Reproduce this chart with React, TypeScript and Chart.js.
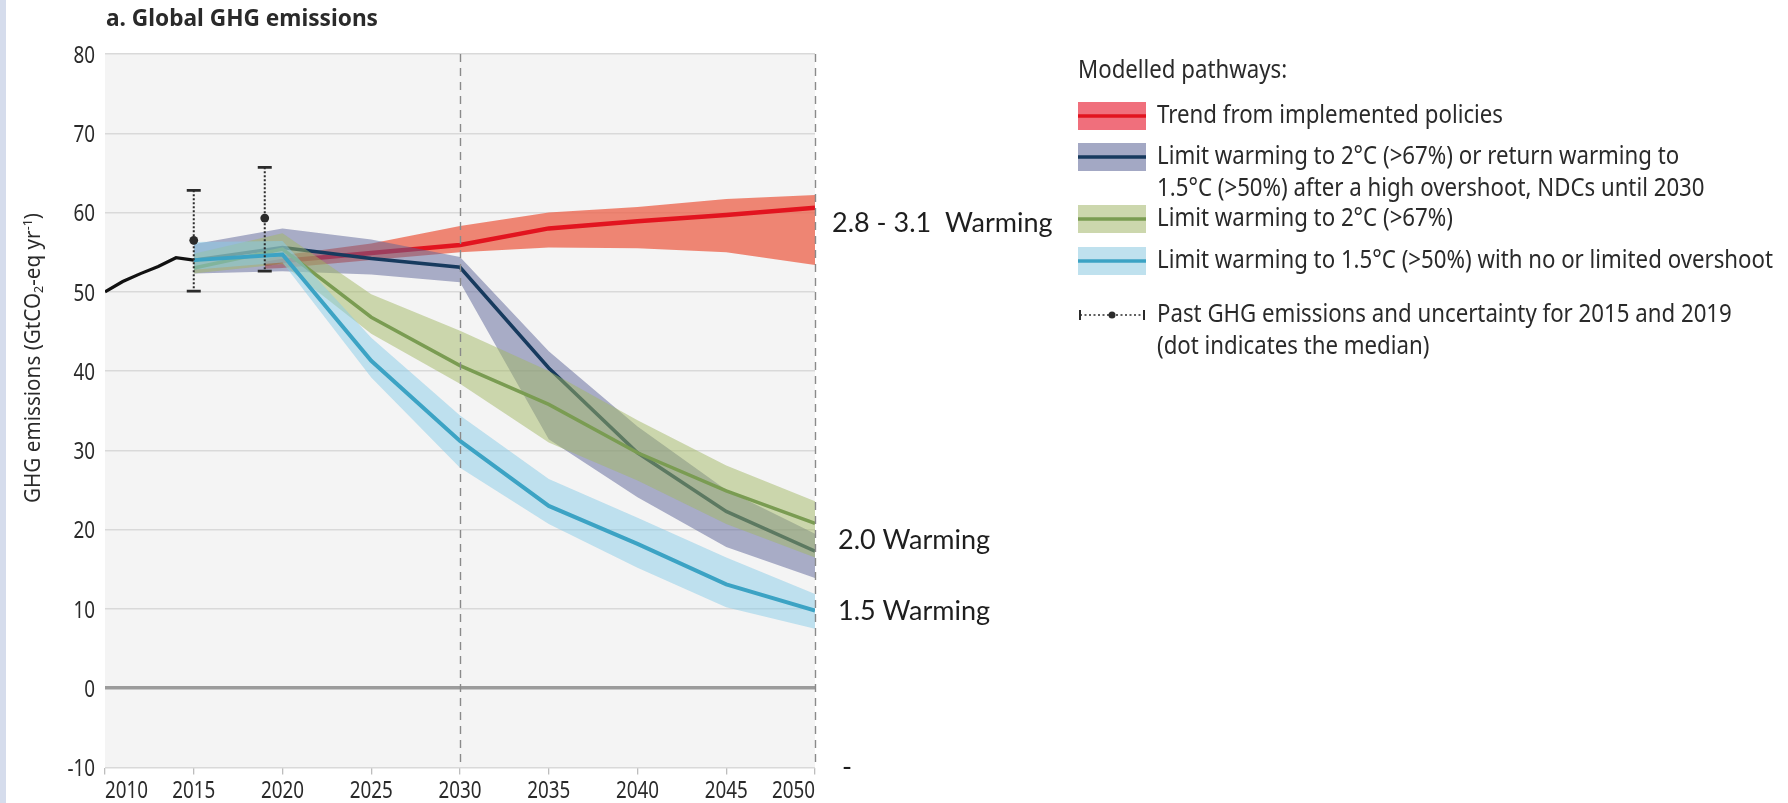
import React, { useEffect, useRef } from 'react';
import { Chart, registerables } from 'chart.js';
Chart.register(...registerables);

// ---------- data ----------
const histYears = [2010, 2011, 2012, 2013, 2014, 2015];
const histValues = [50.0, 51.3, 52.3, 53.2, 54.3, 54.0];

const pathYears = [2015, 2020, 2025, 2030, 2035, 2040, 2045, 2050];

const policyYears = [2019, 2020, 2025, 2030, 2035, 2040, 2045, 2050];
const policyMedian = [53.5, 53.9, 54.9, 55.9, 58.0, 58.9, 59.7, 60.6];
const policyLow = [52.9, 53.0, 54.0, 55.0, 55.6, 55.5, 55.0, 53.4];
const policyHigh = [54.1, 54.6, 56.1, 58.3, 60.0, 60.7, 61.7, 62.2];

const ndcMedian = [54.0, 55.6, 54.2, 53.1, 40.4, 29.7, 22.3, 17.3];
const ndcLow = [52.3, 52.6, 52.2, 51.2, 31.4, 24.1, 17.8, 13.9];
const ndcHigh = [56.0, 58.0, 56.6, 54.4, 42.5, 33.0, 25.0, 19.5];

const c2Median = [53.0, 55.4, 46.8, 40.7, 35.8, 29.7, 24.9, 20.8];
const c2Low = [52.3, 53.5, 44.7, 38.4, 31.0, 26.2, 20.7, 16.5];
const c2High = [54.8, 57.4, 49.7, 45.1, 40.0, 33.8, 28.1, 23.6];

const c15Median = [54.0, 54.7, 41.3, 31.2, 23.0, 18.2, 13.1, 9.8];
const c15Low = [52.8, 53.7, 39.2, 27.8, 20.7, 15.2, 10.2, 7.5];
const c15High = [56.3, 56.4, 44.2, 34.4, 26.4, 21.5, 16.5, 11.9];

const pastYears = [2015, 2019];
const pastMedian = [56.5, 59.3];
const pastLow = [50.1, 52.6];
const pastHigh = [62.8, 65.7];

const xTicksMin = 2010;
const xTicksMax = 2050;
const yTicksMin = -10;
const yTicksMax = 80;
const dashedYears = [2030, 2050];

const warmingLabels = ['2.8 - 3.1  Warming', '2.0 Warming', '1.5 Warming', '-'];
const warmingLabelValues = [58.6, 18.7, 9.7, -10];

const chartTitle = 'a. Global GHG emissions';
const legendTitle = 'Modelled pathways:';
const legendLines = [
  ['Trend from implemented policies'],
  ['Limit warming to 2°C (>67%) or return warming to', '1.5°C (>50%) after a high overshoot, NDCs until 2030'],
  ['Limit warming to 2°C (>67%)'],
  ['Limit warming to 1.5°C (>50%) with no or limited overshoot'],
];
const pastLegend = ['Past GHG emissions and uncertainty for 2015 and 2019', '(dot indicates the median)'];

// ---------- styles ----------
const CF = "'Noto Sans', 'Open Sans', 'Liberation Sans', sans-serif";
const LF = "Lato, 'Open Sans', sans-serif";
const TXT = '#2a2a2a';

const COL = {
  policyLine: '#e2141f',
  policyBand: 'rgba(236,96,72,0.75)',
  policySwatch: '#f06f7c',
  ndcLine: '#173a5e',
  ndcBand: 'rgba(92,100,152,0.5)',
  ndcSwatch: '#a3a8c4',
  c2Line: '#7a9c52',
  c2Band: 'rgba(162,184,100,0.5)',
  c2Swatch: '#ccd7ad',
  c15Line: '#3ca3c4',
  c15Band: 'rgba(136,204,232,0.5)',
  c15Swatch: '#bfe1ee',
};

const pts = (xs: number[], ys: number[]) => xs.map((x, i) => ({ x, y: ys[i] }));

const line = (data: any, color: string, width: number) => ({
  data, borderColor: color, borderWidth: width, pointRadius: 0, fill: false, tension: 0,
});
const bandHigh = (data: any, color: string) => ({
  data, borderWidth: 0, borderColor: 'rgba(0,0,0,0)', backgroundColor: color, pointRadius: 0, fill: '+1', tension: 0,
});
const bandLow = (data: any) => ({
  data, borderWidth: 0, borderColor: 'rgba(0,0,0,0)', pointRadius: 0, fill: false, tension: 0,
});

function drawText(ctx: CanvasRenderingContext2D, s: string, x: number, y: number, font: string, align: CanvasTextAlign = 'left', color = TXT, sx = 1) {
  ctx.save();
  ctx.font = font;
  ctx.fillStyle = color;
  ctx.textAlign = align;
  ctx.textBaseline = 'middle';
  ctx.translate(x, y);
  ctx.scale(sx, 1);
  ctx.fillText(s, 0, 0);
  ctx.restore();
}
function fitScale(ctx: CanvasRenderingContext2D, s: string, font: string, target: number) {
  ctx.save();
  ctx.font = font;
  const w = ctx.measureText(s).width;
  ctx.restore();
  return w > 0 ? target / w : 1;
}

const decorPlugin = {
  id: 'decor',
  beforeDraw(chart: any) {
    const { ctx, chartArea } = chart;
    ctx.save();
    ctx.fillStyle = '#f4f4f4';
    ctx.fillRect(chartArea.left, chartArea.top, chartArea.right - chartArea.left, chartArea.bottom - chartArea.top);
    ctx.fillStyle = '#d5dcec';
    ctx.fillRect(0, 0, 6, chart.height);
    ctx.restore();
  },
  afterDatasetsDraw(chart: any) {
    const { ctx, chartArea, scales } = chart;
    const xs = scales.x, ys = scales.y;
    ctx.save();
    ctx.strokeStyle = '#8a8a8a';
    ctx.lineWidth = 1.4;
    ctx.setLineDash([8, 6]);
    dashedYears.forEach((yr) => {
      const px = Math.round(xs.getPixelForValue(yr)) + 0.5;
      ctx.beginPath();
      ctx.moveTo(px, chartArea.top);
      ctx.lineTo(px, chartArea.bottom);
      ctx.stroke();
    });
    pastYears.forEach((yr, i) => {
      const px = xs.getPixelForValue(yr);
      const yl = ys.getPixelForValue(pastLow[i]);
      const yh = ys.getPixelForValue(pastHigh[i]);
      const ym = ys.getPixelForValue(pastMedian[i]);
      ctx.strokeStyle = '#2b2b2b';
      ctx.lineWidth = 2;
      ctx.setLineDash([2, 2]);
      ctx.beginPath();
      ctx.moveTo(px, yh);
      ctx.lineTo(px, yl);
      ctx.stroke();
      ctx.setLineDash([]);
      ctx.lineWidth = 2.8;
      ctx.beginPath();
      ctx.moveTo(px - 7, yh); ctx.lineTo(px + 7, yh);
      ctx.moveTo(px - 7, yl); ctx.lineTo(px + 7, yl);
      ctx.stroke();
      ctx.fillStyle = '#2b2b2b';
      ctx.beginPath();
      ctx.arc(px, ym, 4.4, 0, Math.PI * 2);
      ctx.fill();
    });
    ctx.restore();
  },
  afterDraw(chart: any) {
    const { ctx, chartArea, scales } = chart;
    const xs = scales.x, ys = scales.y;

    // tick labels (condensed)
    const tickFont = `23.5px ${CF}`;
    const sxTick = fitScale(ctx, '2010', tickFont, 43);
    xs.ticks.forEach((t: any, i: number) => {
      const px = xs.getPixelForValue(t.value);
      const align: CanvasTextAlign = i === 0 ? 'left' : i === xs.ticks.length - 1 ? 'right' : 'center';
      drawText(ctx, String(t.value), px, 791, tickFont, align, TXT, sxTick);
    });
    ys.ticks.forEach((t: any) => {
      drawText(ctx, String(t.value), chartArea.left - 10, ys.getPixelForValue(t.value) + 2, tickFont, 'right', TXT, sxTick);
    });

    // title
    const titleFont = `bold 23.5px ${CF}`;
    drawText(ctx, chartTitle, chartArea.left + 1, 19, titleFont, 'left', TXT, fitScale(ctx, chartTitle, titleFont, 272));

    // y-axis title (rotated, with sub/superscript)
    const parts = [
      { t: 'GHG emissions (GtCO', s: 21.5, dy: 0 },
      { t: '2', s: 13, dy: 5 },
      { t: '-eq yr', s: 21.5, dy: 0 },
      { t: '-1', s: 13, dy: -6 },
      { t: ')', s: 21.5, dy: 0 },
    ];
    let total = 0;
    parts.forEach((p) => { ctx.font = `${p.s}px ${CF}`; total += ctx.measureText(p.t).width; });
    const sxY = 290 / total;
    ctx.save();
    ctx.translate(34, 358);
    ctx.rotate(-Math.PI / 2);
    let cx = -145;
    parts.forEach((p) => {
      const f = `${p.s}px ${CF}`;
      drawText(ctx, p.t, cx, p.dy, f, 'left', TXT, sxY);
      ctx.font = f;
      cx += ctx.measureText(p.t).width * sxY;
    });
    ctx.restore();

    // warming labels
    warmingLabels.forEach((s, i) => {
      const x = i === 0 ? chartArea.right + 17 : chartArea.right + 23 + (i === 3 ? 4 : 0);
      drawText(ctx, s, x, ys.getPixelForValue(warmingLabelValues[i]), `27px ${LF}`, 'left', '#1e1e1e');
    });

    // legend
    const lx = 1078, tx = 1157, sw = 68, sh = 28;
    const font = `25px ${CF}`;
    const sxL = fitScale(ctx, legendLines[3][0], font, 616);
    drawText(ctx, legendTitle, lx, 71, font, 'left', TXT, sxL);
    const swatches = [
      { c: COL.policySwatch, l: COL.policyLine, y: 116 },
      { c: COL.ndcSwatch, l: COL.ndcLine, y: 157 },
      { c: COL.c2Swatch, l: COL.c2Line, y: 219 },
      { c: COL.c15Swatch, l: COL.c15Line, y: 261 },
    ];
    ctx.save();
    swatches.forEach((s, i) => {
      ctx.fillStyle = s.c;
      ctx.fillRect(lx, s.y - sh / 2, sw, sh);
      ctx.strokeStyle = s.l;
      ctx.lineWidth = 3.5;
      ctx.beginPath();
      ctx.moveTo(lx, s.y); ctx.lineTo(lx + sw, s.y);
      ctx.stroke();
      legendLines[i].forEach((t, j) => drawText(ctx, t, tx, s.y + j * 32, font, 'left', TXT, sxL));
    });
    const py = 315;
    ctx.strokeStyle = '#2b2b2b';
    ctx.lineWidth = 1.6;
    ctx.setLineDash([2, 2.5]);
    ctx.beginPath(); ctx.moveTo(lx + 2, py); ctx.lineTo(lx + sw - 2, py); ctx.stroke();
    ctx.setLineDash([]);
    ctx.lineWidth = 2;
    ctx.beginPath();
    ctx.moveTo(lx + 2, py - 5); ctx.lineTo(lx + 2, py + 5);
    ctx.moveTo(lx + sw - 2, py - 5); ctx.lineTo(lx + sw - 2, py + 5);
    ctx.stroke();
    ctx.fillStyle = '#2b2b2b';
    ctx.beginPath(); ctx.arc(lx + sw / 2, py, 3.5, 0, Math.PI * 2); ctx.fill();
    ctx.restore();
    pastLegend.forEach((t, j) => drawText(ctx, t, tx, py + j * 32, font, 'left', TXT, sxL));
  },
};

export default function App() {
  const ref = useRef<HTMLCanvasElement | null>(null);
  useEffect(() => {
    if (!ref.current) return;
    const chart = new Chart(ref.current, {
      type: 'line',
      data: {
        datasets: [
          line(pts(histYears, histValues), '#111111', 3.2),
          line(pts(pathYears, c15Median), COL.c15Line, 4),
          bandHigh(pts(pathYears, c15High), COL.c15Band),
          bandLow(pts(pathYears, c15Low)),
          line(pts(pathYears, c2Median), COL.c2Line, 3.5),
          bandHigh(pts(pathYears, c2High), COL.c2Band),
          bandLow(pts(pathYears, c2Low)),
          line(pts(pathYears, ndcMedian), COL.ndcLine, 3.5),
          bandHigh(pts(pathYears, ndcHigh), COL.ndcBand),
          bandLow(pts(pathYears, ndcLow)),
          line(pts(policyYears, policyMedian), COL.policyLine, 4.5),
          bandHigh(pts(policyYears, policyHigh), COL.policyBand),
          bandLow(pts(policyYears, policyLow)),
        ] as any,
      },
      options: {
        responsive: false,
        animation: false,
        devicePixelRatio: 1,
        layout: { padding: { top: 54, left: 0, right: 973, bottom: 0 } },
        plugins: {
          legend: { display: false },
          tooltip: { enabled: false },
          filler: { drawTime: 'beforeDatasetDraw' },
        } as any,
        scales: {
          x: {
            type: 'linear',
            min: xTicksMin,
            max: xTicksMax,
            afterFit: (s: any) => { s.height = 35.5; },
            ticks: { stepSize: 5, display: false, maxRotation: 0 },
            grid: { drawOnChartArea: false, drawTicks: true, tickLength: 7, color: '#bdbdbd', lineWidth: 1.3 },
            border: { display: false },
          },
          y: {
            type: 'linear',
            min: yTicksMin,
            max: yTicksMax,
            afterFit: (s: any) => { s.width = 105; },
            ticks: { stepSize: 10, display: false },
            grid: {
              drawTicks: false,
              color: (c: any) => (c.tick && c.tick.value === 0 ? '#9b9b9b' : '#d9d9d9'),
              lineWidth: (c: any) => (c.tick && c.tick.value === 0 ? 3.5 : 1.5),
            },
            border: { display: false },
          },
        },
      } as any,
      plugins: [decorPlugin],
    });
    return () => chart.destroy();
  }, []);
  return (
    <div style={{ position: 'absolute', left: 0, top: 0, width: 1788, height: 803, background: '#fff' }}>
      <canvas ref={ref} width={1788} height={803} style={{ width: 1788, height: 803, display: 'block' }} />
    </div>
  );
}
